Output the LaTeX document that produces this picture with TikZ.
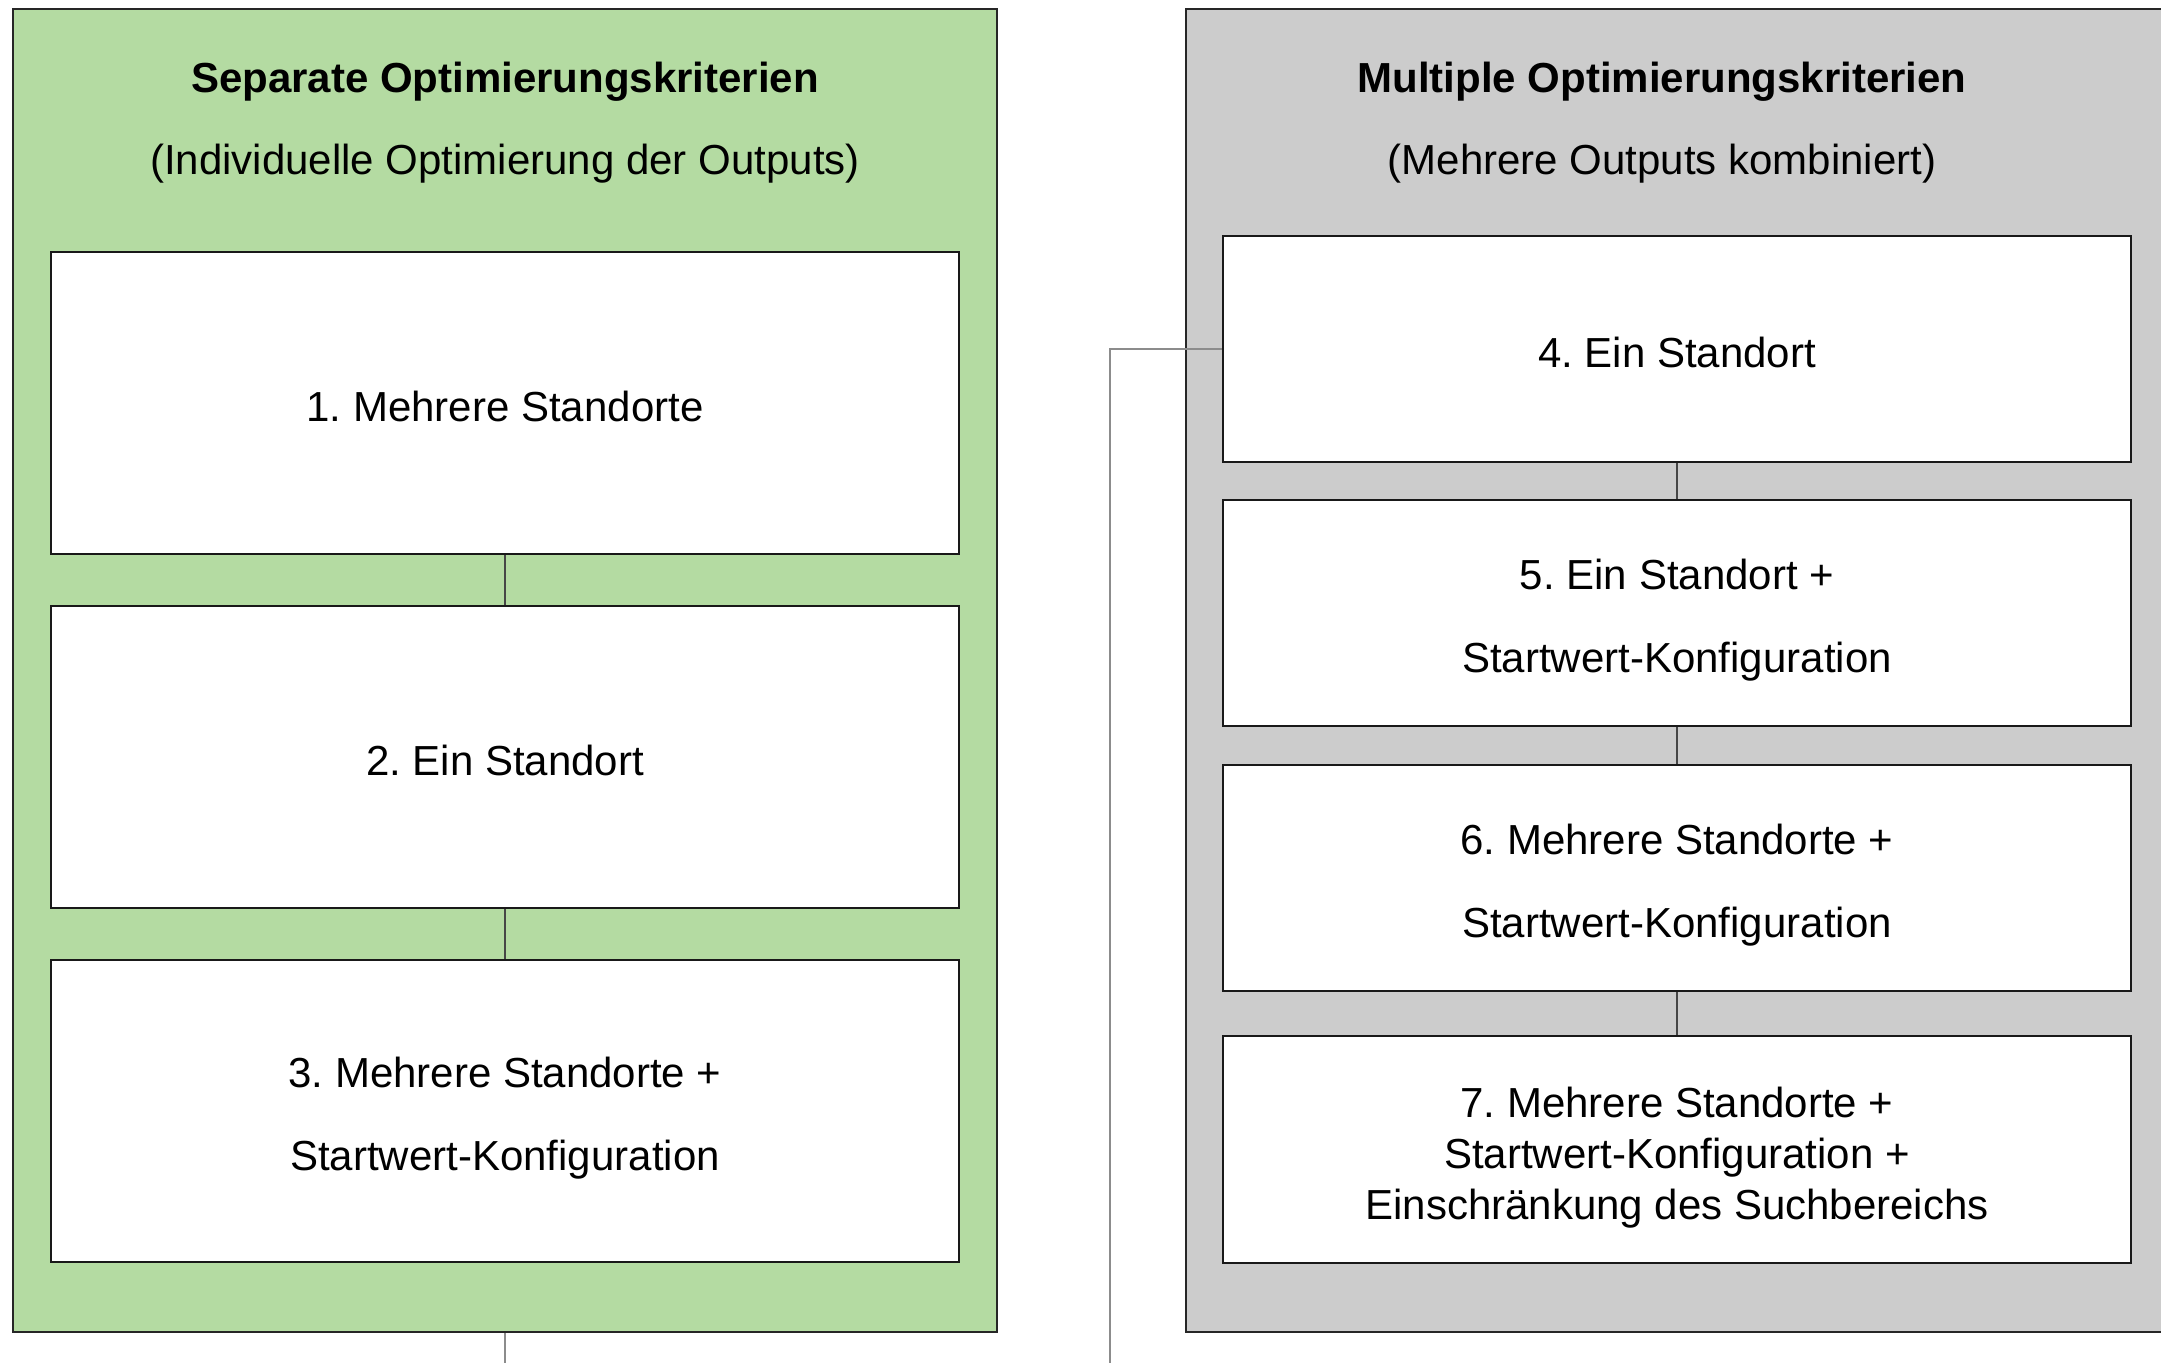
\documentclass[tikz,border=0pt]{standalone}
\usepackage{fontspec}
\setmainfont{Liberation Sans}
\frenchspacing
\definecolor{panelgreen}{RGB}{180,219,162}
\definecolor{panelgray}{RGB}{204,204,204}
\definecolor{linkgray}{RGB}{70,70,70}
\definecolor{outgray}{RGB}{140,140,140}
\begin{document}
\begin{tikzpicture}[x=1pt,y=-1pt,
  panel/.style={draw=black!85, line width=2pt, inner sep=0pt},
  stepbox/.style={draw=black!90, fill=white, line width=2pt, inner sep=0pt,
    minimum width=908pt},
  boxtext/.style={align=center, inner sep=0pt, font=\fontsize{42}{51}\selectfont},
  widetext/.style={boxtext, font=\fontsize{42}{83}\selectfont},
  title/.style={font=\fontsize{42}{51}\selectfont\bfseries},
  subtitle/.style={font=\fontsize{42}{51}\selectfont},
  link/.style={draw=linkgray, line width=1.6pt},
  outlink/.style={draw=outgray, line width=2pt}]
\useasboundingbox[fill=white] (0,0) rectangle (2161,1363);

% panels
\node[panel, fill=panelgreen, minimum width=984pt, minimum height=1323pt] (lp) at (505,670.5) {};
\node[panel, fill=panelgray, minimum width=1014pt, minimum height=1323pt] (rp) at (1693,670.5) {};

% panel headings
\node[title] (lt) at (505,82) {Separate Optimierungskriterien};
\node[subtitle] (ls) at (505,164) {(Individuelle Optimierung der Outputs)};
\node[title] (rt) at (1662,82) {Multiple Optimierungskriterien};
\node[subtitle] (rs) at (1662,164) {(Mehrere Outputs kombiniert)};

% left column
\node[stepbox, minimum height=302pt] (b1) at (505,403) {};
\node[stepbox, minimum height=302pt] (b2) at (505,757) {};
\node[stepbox, minimum height=302pt] (b3) at (505,1111) {};
\node[boxtext] (t1) at ([yshift=-3pt]b1.center) {1. Mehrere Standorte};
\node[boxtext] (t2) at ([yshift=-3pt]b2.center) {2. Ein Standort};
\node[widetext] (t3) at ([yshift=-7pt]b3.center) {3. Mehrere Standorte +\\Startwert-Konfiguration};

% right column
\node[stepbox, minimum height=226pt] (b4) at (1677,349) {};
\node[stepbox, minimum height=226pt] (b5) at (1677,613) {};
\node[stepbox, minimum height=226pt] (b6) at (1677,878) {};
\node[stepbox, minimum height=227pt] (b7) at (1677,1149.5) {};
\node[boxtext] (t4) at ([yshift=-3pt]b4.center) {4. Ein Standort};
\node[widetext] (t5) at ([yshift=-7pt]b5.center) {5. Ein Standort +\\Startwert-Konfiguration};
\node[widetext] (t6) at ([yshift=-7pt]b6.center) {6. Mehrere Standorte +\\Startwert-Konfiguration};
\node[boxtext] (t7) at ([yshift=-8pt]b7.center) {7. Mehrere Standorte +\\Startwert-Konfiguration +\\Einschränkung des Suchbereichs};

% links between steps
\draw[link] (b1) -- (b2);
\draw[link] (b2) -- (b3);
\draw[link] (b4) -- (b5);
\draw[link] (b5) -- (b6);
\draw[link] (b6) -- (b7);

% outgoing lines
\coordinate (lout) at (505,1363);
\coordinate (rout) at (1110,1363);
\draw[outlink] (lp.south) -- (lout);
\draw[outlink] (b4.west) -| (rout);
\end{tikzpicture}
\end{document}
